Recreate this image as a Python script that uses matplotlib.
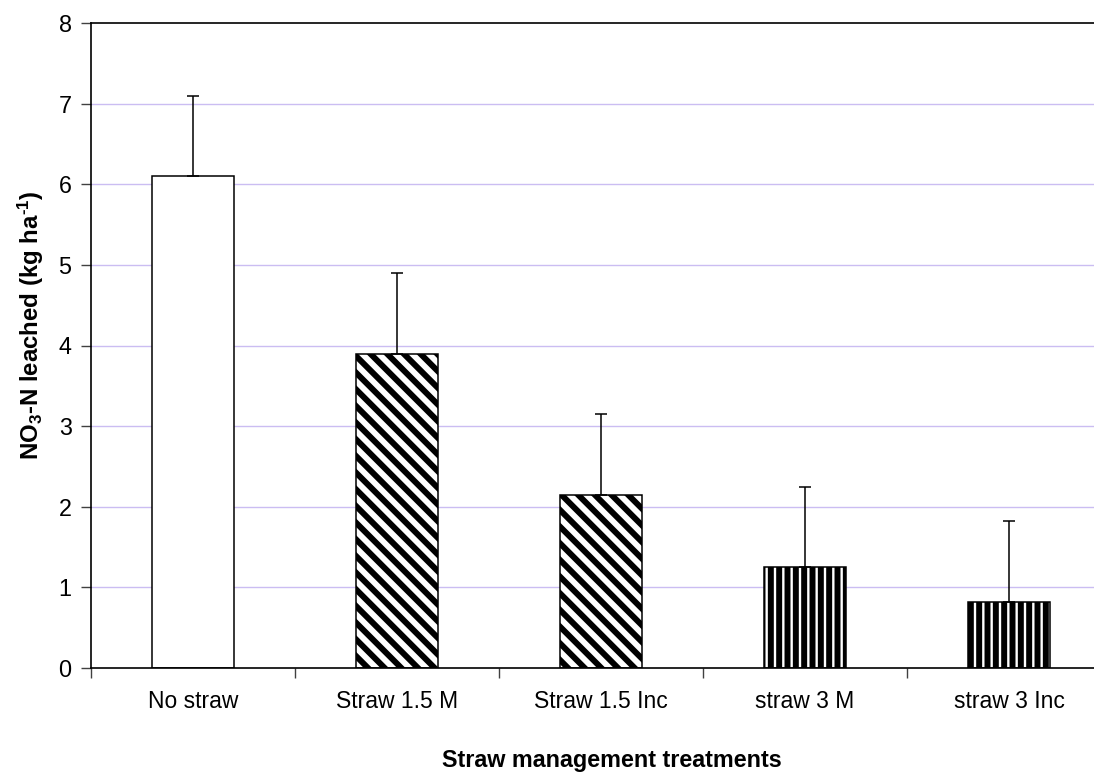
import matplotlib
matplotlib.use("Agg")
import matplotlib.pyplot as plt
import numpy as np

categories = ["No straw", "Straw 1.5 M", "Straw 1.5 Inc", "straw 3 M", "straw 3 Inc"]
values = [6.1, 3.9, 2.15, 1.25, 0.82]
errors = [1.0, 1.0, 1.0, 1.0, 1.0]
hatches = ["", "\\\\", "\\\\", "||", "||"]

plt.rcParams['font.family'] = ['Liberation Sans', 'DejaVu Sans']
plt.rcParams['hatch.linewidth'] = 4.3
plt.rcParams['hatch.color'] = 'black'
plt.rcParams['mathtext.fontset'] = 'custom'
plt.rcParams['mathtext.rm'] = 'Liberation Sans:bold'
plt.rcParams['mathtext.bf'] = 'Liberation Sans:bold'
plt.rcParams['mathtext.default'] = 'bf'

W, H = 1094, 772
fig = plt.figure(figsize=(W / 100, H / 100), dpi=100)
ax = fig.add_axes([91 / W, (H - 668) / H, (1111 - 91) / W, (668 - 23) / H])

x = np.arange(len(categories))
grid_color = '#CBBDF2'
for yv in range(1, 8):
    ax.axhline(yv, color=grid_color, lw=1.0, zorder=0)

for xi, v, h in zip(x, values, hatches):
    ax.bar(xi, v, width=0.4, facecolor='white', edgecolor='black',
           hatch=h, linewidth=1.1, zorder=2)

ax.errorbar(x, values, yerr=[np.zeros(len(values)), errors], fmt='none',
            ecolor='black', elinewidth=1.1, capsize=4.5, capthick=1.1, zorder=3)

ax.set_xlim(-0.5, 4.5)
ax.set_ylim(0, 8)
ax.set_yticks(range(0, 9))
ax.set_xticks(np.arange(-0.5, 5, 1.0))
ax.set_xticklabels([])
ax.set_xticks(x, minor=True)
ax.set_xticklabels(categories, minor=True, fontsize=16.5)
ax.tick_params(axis='x', which='minor', length=0, pad=16)
ax.tick_params(axis='x', which='major', length=7, direction='out', color='#404040', width=1)
ax.tick_params(axis='y', length=7, direction='out', color='#404040', width=1,
               labelsize=16.8, pad=7)

for s in ['left', 'bottom', 'top']:
    ax.spines[s].set_linewidth(1.2)
    ax.spines[s].set_color('black')
ax.spines['right'].set_visible(False)

fig.text(612 / W, 1 - 760 / H, "Straw management treatments", ha='center', va='center',
         fontsize=16.8, fontweight='bold')
fig.text(31 / W, 1 - 325 / H, r"NO$_{3}$-N leached (kg ha$^{\text{-1}}$)", ha='center', va='center',
         rotation=90, fontsize=17.3, fontweight='bold')

fig.savefig("out.png", dpi=100)
